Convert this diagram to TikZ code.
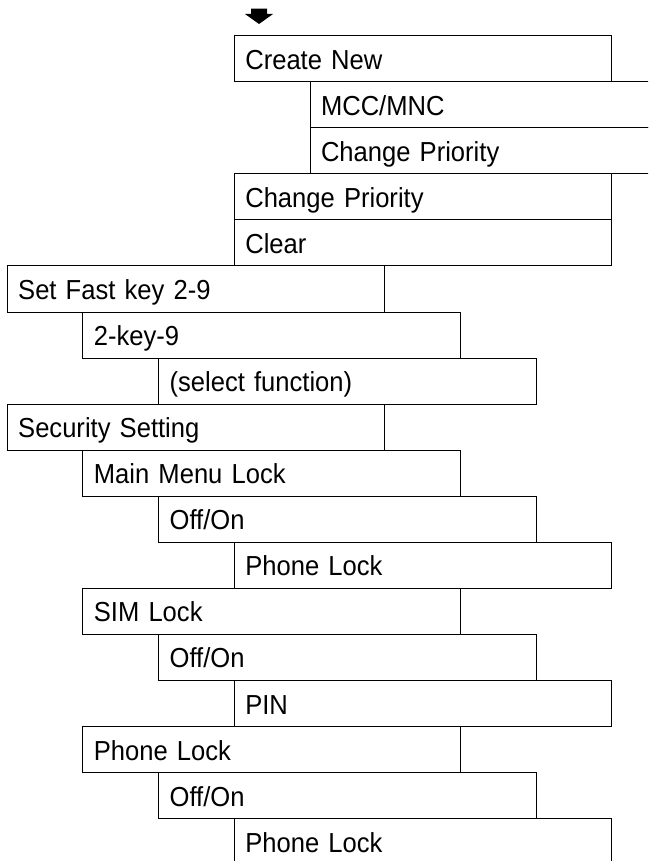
\documentclass[tikz,border=0pt]{standalone}
\usepackage{fontspec}
\setmainfont[FakeStretch=0.93]{Liberation Sans}
\usetikzlibrary{positioning}
\newlength{\lvstep}
\setlength{\lvstep}{75.7pt}

\begin{document}
\begin{tikzpicture}[
  x=1pt,y=1pt,
  item/.style={draw,line width=1pt,text width=355.5pt,align=left,inner xsep=11pt,inner ysep=0pt,
    outer sep=0pt,minimum height=46.05pt,text height=21.15pt,text depth=0pt,
    font=\fontsize{27.5}{32}\selectfont},
  under/.style 2 args={below=0pt of #1.south west,anchor=north west,xshift=#2*\lvstep}
]
\useasboundingbox (0,0) rectangle (648,-861);
\clip (0,0) rectangle (648,-861);
\node[item,anchor=north west] (create) at (234.3,-35.7) {Create New};
\node[item,under={create}{1}] (mcc) {MCC/MNC};
\node[item,under={mcc}{0}] (mccprio) {Change Priority};
\node[item,under={mccprio}{-1}] (prio) {Change Priority};
\node[item,under={prio}{0}] (clear) {Clear};
\node[item,under={clear}{-3}] (fastkey) {Set Fast key 2-9};
\node[item,under={fastkey}{1}] (keynum) {2-key-9};
\node[item,under={keynum}{1}] (selfunc) {(select function)};
\node[item,under={selfunc}{-2}] (security) {Security Setting};
\node[item,under={security}{1}] (menulock) {Main Menu Lock};
\node[item,under={menulock}{1}] (menuonoff) {Off/On};
\node[item,under={menuonoff}{1}] (menuphone) {Phone Lock};
\node[item,under={menuphone}{-2}] (simlock) {SIM Lock};
\node[item,under={simlock}{1}] (simonoff) {Off/On};
\node[item,under={simonoff}{1}] (simpin) {PIN};
\node[item,under={simpin}{-2}] (phonelock) {Phone Lock};
\node[item,under={phonelock}{1}] (phoneonoff) {Off/On};
\node[item,under={phoneonoff}{1}] (phonephone) {Phone Lock};
% entry arrow
\fill ([shift={(16.7,27)}]create.north west) -- ++(16,0) -- ++(0,-5.3) -- ++(6,0)
  -- ++(-14,-10) -- ++(-14,10) -- ++(6,0) -- cycle;
\end{tikzpicture}
\end{document}
